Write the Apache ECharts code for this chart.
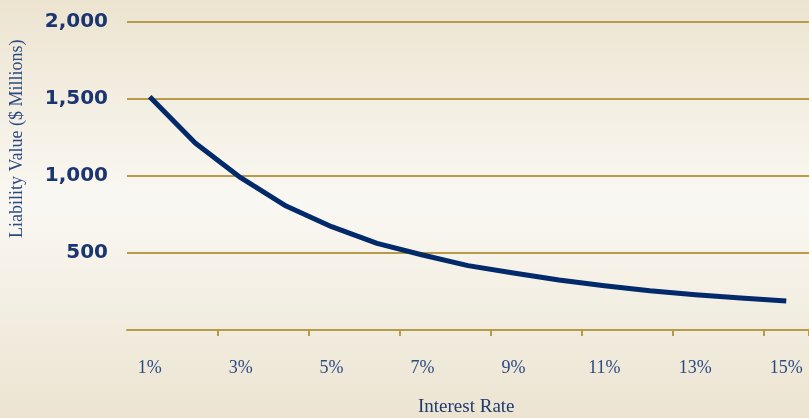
<!DOCTYPE html>
<html>
<head>
<meta charset="utf-8">
<script src="https://cdn.jsdelivr.net/npm/echarts@6/dist/echarts.min.js"></script>
<style>
html,body{margin:0;padding:0;}
#chart{width:809px;height:418px;}
</style>
</head>
<body>
<div id="chart"></div>
<script>
const categories = ['1%','2%','3%','4%','5%','6%','7%','8%','9%','10%','11%','12%','13%','14%','15%'];
const liabilityValues = [1515, 1214, 989, 805, 671, 563, 487, 418, 370, 325, 288, 255, 229, 208, 188];
const yTicks = [0, 500, 1000, 1500, 2000];
const xTitle = 'Interest Rate';
const yTitle = 'Liability Value ($ Millions)';

const chart = echarts.init(document.getElementById('chart'), null, {renderer: 'canvas'});
const gold = '#b89b4a';
chart.setOption({
  animation: false,
  backgroundColor: {
    type: 'linear', x: 0, y: 0, x2: 0, y2: 1,
    colorStops: [
      {offset: 0, color: '#ece4d0'},
      {offset: 0.48, color: '#faf8f3'},
      {offset: 1, color: '#ece4d1'}
    ]
  },
  grid: {left: 127, right: -1, top: 22, bottom: 88, containLabel: false},
  xAxis: {
    type: 'category',
    data: categories,
    boundaryGap: true,
    axisLine: {show: true, lineStyle: {color: gold, width: 2}},
    axisTick: {show: true, length: 6, lineStyle: {color: gold, width: 2},
      interval: function (i) { return i > 0 && i % 2 === 0; }},
    axisLabel: {interval: 1, margin: 29, color: '#2c4a82', fontFamily: 'Liberation Serif', fontSize: 18}
  },
  yAxis: {
    type: 'value',
    min: yTicks[0], max: yTicks[yTicks.length - 1], interval: 500,
    axisLine: {show: false},
    axisTick: {show: false},
    splitLine: {show: true, lineStyle: {color: gold, width: 2}},
    axisLabel: {
      margin: 19, color: '#1b3570', fontFamily: 'DejaVu Sans', fontWeight: 'bold', fontSize: 20,
      formatter: function (v) { return v === 0 ? '' : v.toLocaleString('en-US'); }
    }
  },
  graphic: [
    {type: 'text', left: 418, top: 398, style: {text: xTitle, fill: '#1f3a6e', font: '19px "Liberation Serif"'}},
    {type: 'text', x: 8, y: 238, rotation: Math.PI / 2, style: {text: yTitle, fill: '#2c4a82', font: '18px "Liberation Serif"', textVerticalAlign: 'top'}}
  ],
  series: [{
    type: 'line',
    data: liabilityValues,
    showSymbol: false,
    symbol: 'none',
    lineStyle: {color: '#022a6b', width: 5, cap: 'butt', join: 'round'}
  }]
});
</script>
</body>
</html>
